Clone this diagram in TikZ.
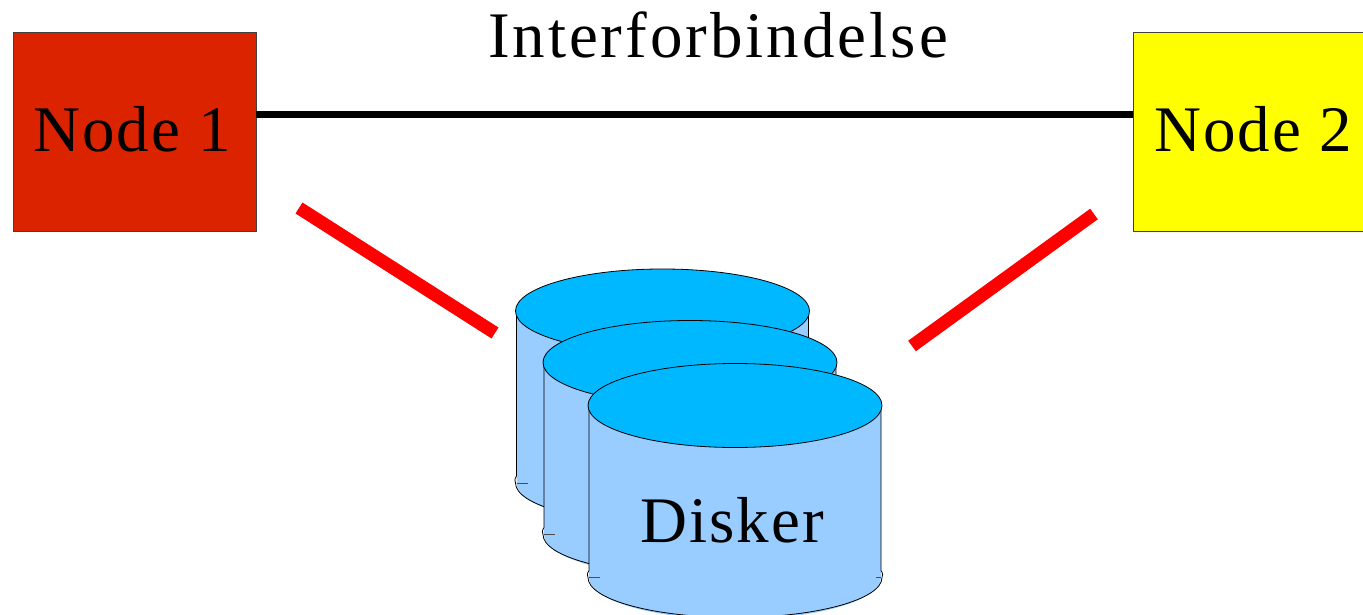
\documentclass[tikz,border=0pt]{standalone}
\usepackage{fontspec}
\setmainfont[LetterSpace=3.2]{Liberation Serif}
\newfontfamily\widefont[LetterSpace=4.6]{Liberation Serif}
\definecolor{nodeRed}{HTML}{DC2300}
\definecolor{nodeYellow}{HTML}{FFFF00}
\definecolor{diskTop}{HTML}{00B8FF}
\definecolor{diskBody}{HTML}{99CCFF}
\tikzset{
  box/.style={draw=black!75,line width=0.7pt,minimum width=243pt,minimum height=199pt,inner sep=0pt},
  label/.style={inner sep=0pt,font=\fontsize{65}{70}\selectfont,text=black},
  link/.style={line width=7pt,black},
  redlink/.style={line width=13pt,color={rgb,255:red,255;green,0;blue,0}},
  diskline/.style={draw=black,line width=0.8pt},
}
\newcommand{\diskdraw}[2]{%
  \begin{scope}[shift={(#1,#2)}]
    \path[fill=diskBody] (-146,0) -- (-146,172) arc[start angle=180,end angle=0,x radius=146,y radius=42] -- (146,0) -- cycle;
    \draw[diskline] (-146,0) -- (-146,165) .. controls (-148,168) and (-148,170) .. (-147,172) arc[start angle=180,end angle=0,x radius=147,y radius=40] .. controls (148,170) and (148,168) .. (146,165) -- (146,0);
    \draw[diskline,black!70] (-146,172) -- (-135,172);
    \draw[diskline,black!70] (146,172) -- (141,172);
    \draw[diskline,fill=diskTop] (0,0) ellipse[x radius=147,y radius=42];
  \end{scope}}
\begin{document}
\begin{tikzpicture}[x=1pt,y=-1pt]
\useasboundingbox (0,0) rectangle (1363,615);
\clip (0,0) rectangle (1363,615);
\fill[white] (0,0) rectangle (1363,615);
\coordinate (linkY) at (0,114.5);
\coordinate (redA) at (299,208);
\coordinate (redB) at (495,333);
\coordinate (redC) at (1094,214);
\coordinate (redD) at (912,346);
\node[box,fill=nodeRed,anchor=north west] (n1) at (12.5,32) {};
\node[box,fill=nodeYellow,anchor=north west] (n2) at (1133,32) {};
\node[label] (n1t) at (132,129) {Node 1};
\node[label] (n2t) at (1253,129) {Node 2};
\node[label] (title) at (718,35) {\widefont Interforbindelse};
\draw[link] (n1.east |- linkY) -- (n2.west |- linkY);
\draw[redlink] (redA) -- (redB);
\draw[redlink] (redC) -- (redD);
\diskdraw{662.5}{311}
\diskdraw{690}{362.5}
\diskdraw{735}{405.5}
\node[label] (disk) at (732,520) {Disker};
\end{tikzpicture}
\end{document}
